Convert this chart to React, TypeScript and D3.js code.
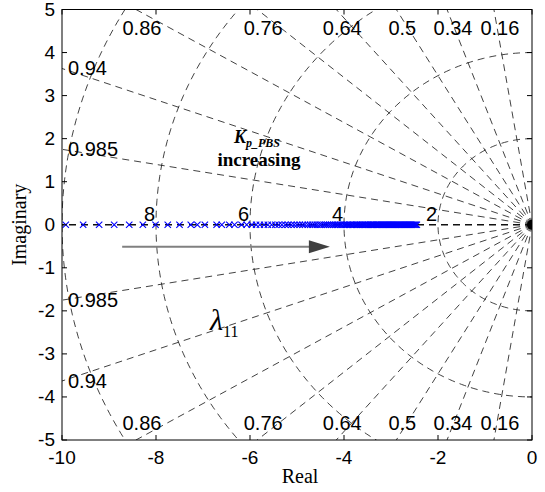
import React from "react";
import * as d3 from "d3";

const xTicks = [-10, -8, -6, -4, -2, 0];
const yTicks = [-5, -4, -3, -2, -1, 0, 1, 2, 3, 4, 5];
const zetaValues = [0.16, 0.34, 0.5, 0.64, 0.76, 0.86, 0.94, 0.985];
const wnValues = [2, 4, 6, 8, 10];
const wnLabels = [2, 4, 6, 8];
const poleReal = [
  -9.92, -9.55, -9.21, -8.89, -8.57, -8.28, -8.01, -7.75, -7.5, -7.26, -7.12, -6.96, -6.71, -6.6, -6.44,
  -6.33, -6.18, -6.07, -5.96, -5.87, -5.79, -5.7, -5.62, -5.54, -5.46, -5.39, -5.32, -5.25, -5.19, -5.12,
  -5.06, -5.0, -4.94, -4.88, -4.83, -4.77, -4.72, -4.67, -4.62, -4.57, -4.52, -4.48, -4.43, -4.39, -4.35,
  -4.31, -4.27, -4.23, -4.19, -4.15, -4.12, -4.08, -4.05, -4.01, -3.98, -3.95, -3.92, -3.89, -3.86, -3.83,
  -3.8, -3.77, -3.74, -3.72, -3.69, -3.66, -3.64, -3.61, -3.59, -3.56, -3.54, -3.51, -3.49, -3.47, -3.44,
  -3.42, -3.4, -3.38, -3.36, -3.33, -3.31, -3.29, -3.27, -3.25, -3.23, -3.21, -3.19, -3.17, -3.15, -3.13,
  -3.11, -3.09, -3.07, -3.05, -3.03, -3.01, -2.99, -2.97, -2.95, -2.93, -2.91, -2.89, -2.87, -2.85, -2.83,
  -2.81, -2.79, -2.77, -2.75, -2.73, -2.71, -2.69, -2.67, -2.65, -2.63, -2.61, -2.59, -2.57, -2.55, -2.53,
  -2.51, -2.49, -2.47, -2.45,
];
const poleImag = poleReal.map(() => 0);
const arrowFrom = [-8.72, -0.51];
const arrowTo = [-4.3, -0.51];
const kLabelPos = [-6.34, 1.91];
const incLabelPos = [-5.81, 1.37];
const lambdaPos = [-6.85, -2.44];

const W = 545;
const H = 492;
const L = 62, R = 532, T = 9.5, B = 440;

export default function App() {
  const x = d3.scaleLinear().domain([-10, 0]).range([L, R]);
  const y = d3.scaleLinear().domain([-5, 5]).range([B, T]);
  const line = d3.line<[number, number]>().x((d) => x(d[0])).y((d) => y(d[1]));
  const angles = d3.range(90, 270.01, 1).map((a) => (a * Math.PI) / 180);
  const sans = "'Liberation Sans', Arial, Helvetica, sans-serif";
  const serif = "'Liberation Serif', 'Times New Roman', serif";
  const dash = "7,5";
  const gridStroke = "#111";
  const Rr = 25;

  return (
    <svg width={W} height={H} style={{ position: "absolute", left: 0, top: 0, background: "#fff" }}>
      <defs>
        <clipPath id="plotclip">
          <rect x={L} y={T} width={R - L} height={B - T} />
        </clipPath>
      </defs>
      <rect x={0} y={0} width={W} height={H} fill="#fff" />
      <g clipPath="url(#plotclip)">
        {wnValues.map((wn) => (
          <path
            key={"c" + wn}
            d={line(angles.map((t) => [wn * Math.cos(t), wn * Math.sin(t)] as [number, number])) || ""}
            fill="none"
            stroke={gridStroke}
            strokeWidth={0.8}
            strokeDasharray={dash}
          />
        ))}
        {zetaValues.map((z) =>
          [1, -1].map((s) => (
            <path
              key={"r" + z + s}
              d={line([[0, 0], [-z * Rr, s * Math.sqrt(1 - z * z) * Rr]]) || ""}
              fill="none"
              stroke={gridStroke}
              strokeWidth={0.8}
              strokeDasharray={dash}
            />
          ))
        )}
        <path d={line([[0, 0], [-Rr, 0]]) || ""} fill="none" stroke="#111" strokeWidth={1.5} strokeDasharray={dash} />
        {poleReal.map((p, i) => {
          const cx = x(p), cy = y(poleImag[i]);
          const r = 3.2;
          return (
            <path
              key={"p" + i}
              d={`M${cx - r},${cy - r}L${cx + r},${cy + r}M${cx - r},${cy + r}L${cx + r},${cy - r}`}
              stroke="#0000ff"
              strokeWidth={1.1}
              fill="none"
            />
          );
        })}
        <circle cx={x(0)} cy={y(0)} r={5} fill="#000" />
      </g>

      {/* wn labels */}
      {wnLabels.map((wn) => (
        <text key={"wl" + wn} x={x(-wn) - 1} y={y(0) - 4} textAnchor="end" fontFamily={sans} fontSize={20} fill="#000">
          {wn}
        </text>
      ))}
      {/* zeta labels */}
      {zetaValues.map((z) => {
        const s = Math.sqrt(1 - z * z);
        const xTop = (-5 * z) / s;
        if (xTop >= -10) {
          return (
            <g key={"zl" + z}>
              <text x={x(xTop) + 6} y={T + 25.5} textAnchor="middle" fontFamily={sans} fontSize={20}>
                {z}
              </text>
              <text x={x(xTop) + 6} y={B - 10} textAnchor="middle" fontFamily={sans} fontSize={20}>
                {z}
              </text>
            </g>
          );
        }
        const yl = (10 * s) / z;
        return (
          <g key={"zl" + z}>
            <text x={L + 6} y={y(yl) + 7} textAnchor="start" fontFamily={sans} fontSize={20}>
              {z}
            </text>
            <text x={L + 6} y={y(-yl) + 7} textAnchor="start" fontFamily={sans} fontSize={20}>
              {z}
            </text>
          </g>
        );
      })}

      {/* arrow */}
      <line x1={x(arrowFrom[0])} y1={y(arrowFrom[1])} x2={x(arrowTo[0]) - 18} y2={y(arrowTo[1])} stroke="#808080" strokeWidth={2} />
      <path
        d={`M${x(arrowTo[0])},${y(arrowTo[1])}L${x(arrowTo[0]) - 21},${y(arrowTo[1]) - 6.5}L${x(arrowTo[0]) - 21},${y(arrowTo[1]) + 6.5}Z`}
        fill="#404040"
      />

      {/* annotations */}
      <text x={x(kLabelPos[0])} y={y(kLabelPos[1])} fontFamily={serif} fontWeight="bold" fontStyle="italic" fontSize={18}>
        K
        <tspan fontSize={12} dy={4}>p_PBS</tspan>
      </text>
      <text x={x(incLabelPos[0])} y={y(incLabelPos[1])} textAnchor="middle" fontFamily={serif} fontWeight="bold" fontSize={19}>
        increasing
      </text>
      <text x={x(lambdaPos[0])} y={y(lambdaPos[1])} fontFamily={serif} fontStyle="italic" fontSize={30}>
        λ
        <tspan fontStyle="normal" fontSize={16} dy={7}>11</tspan>
      </text>

      {/* axes box */}
      <rect x={L} y={T} width={R - L} height={B - T} fill="none" stroke="#000" strokeWidth={1} />
      {xTicks.map((t) => (
        <g key={"xt" + t}>
          <line x1={x(t)} x2={x(t)} y1={B} y2={B - 5} stroke="#000" />
          <line x1={x(t)} x2={x(t)} y1={T} y2={T + 5} stroke="#000" />
          <text x={x(t)} y={B + 23.5} textAnchor="middle" fontFamily={sans} fontSize={19}>
            {t}
          </text>
        </g>
      ))}
      {yTicks.map((t) => (
        <g key={"yt" + t}>
          <line x1={L} x2={L + 5} y1={y(t)} y2={y(t)} stroke="#000" />
          <line x1={R} x2={R - 5} y1={y(t)} y2={y(t)} stroke="#000" />
          <text x={L - 7} y={y(t) + 6} textAnchor="end" fontFamily={sans} fontSize={19}>
            {t}
          </text>
        </g>
      ))}
      <text x={300} y={483} textAnchor="middle" fontFamily={serif} fontSize={20}>
        Real
      </text>
      <text transform={`translate(26,${(T + B) / 2}) rotate(-90)`} textAnchor="middle" fontFamily={serif} fontSize={20}>
        Imaginary
      </text>
    </svg>
  );
}
